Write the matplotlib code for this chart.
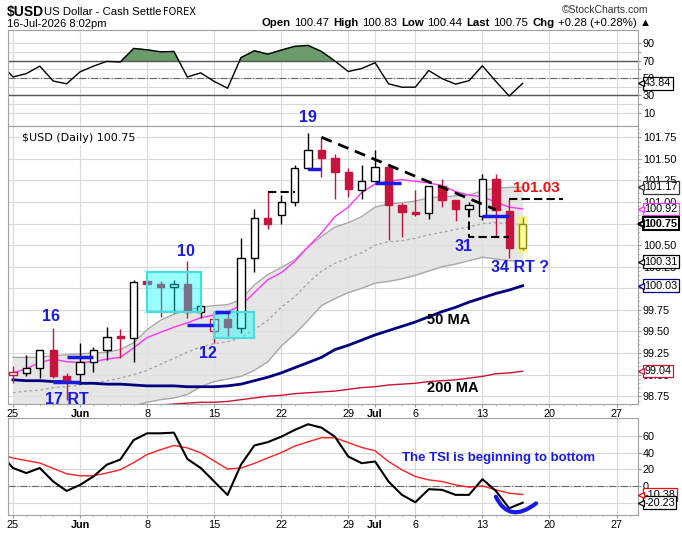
import numpy as np
import pandas as pd
import matplotlib
matplotlib.use("Agg")
import matplotlib.pyplot as plt
from matplotlib.patches import Rectangle, PathPatch
from matplotlib.path import Path
from matplotlib.ticker import MultipleLocator, FormatStrFormatter

plt.rcParams["font.family"] = ["Liberation Sans", "DejaVu Sans"]

# ---- data (index 0 = 25 May 2026, one step per trading day)
opens = [99.00, 99.02, 99.08, 99.29, 98.98, 99.01, 99.15, 99.29, 99.45, 99.42,
         100.09, 100.05, 100.01, 100.05, 99.73, 99.50, 99.64, 99.54, 100.35, 100.82,
         100.85, 101.00, 101.39, 101.60, 101.51, 101.35, 101.14, 101.24, 101.40, 100.97,
         100.88, 100.87, 101.19, 101.02, 100.92, 100.84, 101.27, 100.90, 100.47]
highs = [99.10, 99.23, 99.29, 99.54, 99.02, 99.37, 99.32, 99.55, 99.53, 100.10,
         100.09, 100.08, 100.10, 100.32, 99.81, 99.66, 99.73, 100.58, 100.92, 101.12,
         101.08, 101.43, 101.80, 101.74, 101.56, 101.39, 101.43, 101.60, 101.41, 100.99,
         101.14, 101.19, 101.27, 101.02, 101.00, 101.32, 101.32, 101.03, 100.83]
lows = [98.90, 98.98, 98.96, 98.96, 98.71, 98.89, 99.03, 99.17, 99.19, 99.15,
        100.05, 99.67, 99.71, 99.66, 99.66, 99.37, 99.45, 99.48, 100.19, 100.69,
        100.75, 100.95, 101.37, 101.29, 101.04, 101.06, 101.04, 101.24, 100.56, 100.60,
        100.84, 100.80, 100.94, 100.78, 100.90, 100.79, 100.60, 100.35, 100.44]
closes = [99.03, 99.08, 99.28, 98.98, 98.93, 99.15, 99.28, 99.44, 99.42, 100.07,
          100.05, 100.01, 100.05, 99.73, 99.80, 99.65, 99.55, 100.35, 100.82, 100.75,
          101.00, 101.39, 101.60, 101.51, 101.35, 101.15, 101.24, 101.40, 100.97, 100.88,
          100.86, 101.18, 101.02, 100.92, 100.96, 101.27, 100.91, 100.47, 100.75]
prev_close = 99.06

bb_upper = [99.20, 99.20, 99.20, 99.22, 99.23, 99.24, 99.25, 99.26, 99.29, 99.37,
            99.52, 99.63, 99.70, 99.75, 99.78, 99.80, 99.81, 99.87, 100.04, 100.16,
            100.24, 100.33, 100.48, 100.60, 100.71, 100.76, 100.83, 100.94, 100.98, 100.99,
            101.01, 101.05, 101.06, 101.07, 101.08, 101.13, 101.16, 101.17, 101.17]
bb_mid = [98.79, 98.81, 98.82, 98.85, 98.86, 98.88, 98.90, 98.93, 98.96, 99.00,
          99.05, 99.12, 99.19, 99.26, 99.32, 99.36, 99.38, 99.43, 99.52, 99.63,
          99.78, 99.90, 100.06, 100.20, 100.29, 100.35, 100.41, 100.50, 100.54, 100.55,
          100.58, 100.62, 100.65, 100.68, 100.71, 100.75, 100.76, 100.75, 100.74]
bb_lower = [98.37, 98.42, 98.44, 98.47, 98.49, 98.52, 98.56, 98.59, 98.63, 98.64,
            98.68, 98.71, 98.73, 98.77, 98.86, 98.92, 98.95, 98.98, 99.05, 99.15,
            99.33, 99.47, 99.63, 99.80, 99.88, 99.95, 100.00, 100.06, 100.08, 100.11,
            100.15, 100.20, 100.25, 100.28, 100.32, 100.36, 100.34, 100.32, 100.31]
ema_fast = [99.02, 99.07, 99.14, 99.18, 99.15, 99.14, 99.15, 99.18, 99.20, 99.31,
            99.43, 99.49, 99.55, 99.60, 99.66, 99.69, 99.73, 99.80, 99.95, 100.10,
            100.18, 100.31, 100.48, 100.64, 100.83, 100.94, 101.11, 101.21, 101.24, 101.26,
            101.24, 101.22, 101.19, 101.12, 101.08, 101.06, 101.00, 100.94, 100.92]
ma50 = [98.94, 98.93, 98.93, 98.92, 98.92, 98.90, 98.90, 98.89, 98.89, 98.88,
        98.87, 98.87, 98.87, 98.86, 98.86, 98.86, 98.87, 98.89, 98.93, 98.97,
        99.02, 99.08, 99.14, 99.20, 99.29, 99.34, 99.40, 99.46, 99.51, 99.56,
        99.61, 99.67, 99.73, 99.78, 99.84, 99.89, 99.94, 99.98, 100.03]
ma200 = [98.57, 98.57, 98.58, 98.59, 98.60, 98.60, 98.61, 98.62, 98.63, 98.64,
         98.65, 98.65, 98.66, 98.67, 98.68, 98.68, 98.69, 98.71, 98.73, 98.75,
         98.76, 98.78, 98.79, 98.80, 98.81, 98.83, 98.85, 98.86, 98.88, 98.89,
         98.90, 98.92, 98.93, 98.94, 98.96, 98.98, 99.01, 99.02, 99.04]

# RSI and TSI start one day earlier (index -1)
rsi = [68.0, 51.2, 55.1, 63.7, 46.5, 43.3, 57.1, 63.7, 69.2, 68.4, 84.1, 82.5, 80.2, 80.6,
       51.2, 55.9, 46.1, 38.2, 73.5, 81.4, 77.5, 82.2, 86.5, 87.6, 80.6, 69.6, 57.5,
       61.0, 67.6, 43.3, 39.4, 39.4, 58.6, 49.2, 42.9, 46.9, 64.1, 46.1, 29.2, 43.84]
tsi = [40.0, 21.5, 15.4, 21.5, 5.3, -6.1, 1.2, 11.3, 25.5, 31.6, 55.1, 63.2, 63.2, 64.0,
       32.4, 21.5, 5.3, -10.9, 25.5, 48.6, 52.6, 59.1, 67.2, 74.1, 70.0, 59.1, 35.3,
       27.3, 29.3, 5.2, -10.8, -19.7, -4.0, -4.8, -10.8, -10.8, 8.0, -6.0, -26.9, -20.23]
tsi_signal = [38.5, 33.5, 30.4, 27.5, 21.0, 14.6, 12.1, 12.1, 15.5, 19.4, 28.0, 37.7, 43.5,
              48.6, 45.7, 39.7, 30.0, 20.2, 21.5, 27.0, 33.6, 40.0, 47.8, 53.0, 57.9, 57.9,
              52.0, 46.2, 42.2, 29.3, 19.3, 11.2, 7.2, 5.2, 1.2, -1.6, 0.0, -4.8, -8.8, -10.38]

RED = "#c8143c"
BLUE = "#1a1ae6"
W, H = 682, 535

fig = plt.figure(figsize=(W / 100, H / 100), dpi=100)


def frame(top, bottom):
    return fig.add_axes([8 / W, 1 - bottom / H, 630 / W, (bottom - top) / H])


ax_rsi = frame(30, 126)
ax_px = frame(126, 404)
ax_tsi = frame(418, 515)

dates = pd.bdate_range("2026-05-25", periods=47)
tick_pos, tick_lab = [], []
for i, d in enumerate(dates):
    if i > 0 and d.month != dates[i - 1].month:
        tick_pos.append(i)
        tick_lab.append(d.strftime("%b"))
    elif d.weekday() == 0:
        tick_pos.append(i)
        tick_lab.append(str(d.day))

for ax in (ax_rsi, ax_px, ax_tsi):
    ax.set_xlim(-0.37, 46.6)
    ax.set_xticks(tick_pos)
    ax.xaxis.set_minor_locator(MultipleLocator(1))
    ax.grid(True, which="major", color="#d9d9d9", lw=0.8)
    ax.set_axisbelow(True)
    ax.yaxis.tick_right()
    ax.tick_params(axis="both", which="major", labelsize=7.8, length=2, color="#999999", pad=1.5)
    ax.tick_params(axis="both", which="minor", length=1.5, color="#bbbbbb")
    for s in ax.spines.values():
        s.set_color("#a0a0a0")
        s.set_linewidth(0.8)

ax_rsi.tick_params(axis="x", which="both", labelbottom=False)
for ax in (ax_px, ax_tsi):
    ax.set_xticklabels(tick_lab)
    for lab in ax.get_xticklabels():
        if not lab.get_text().isdigit():
            lab.set_fontweight("bold")


def tag(ax, y, text, color, bold=False, lw=0.9):
    ax.annotate(text, xy=(1, y), xycoords=("axes fraction", "data"), xytext=(4.5, 0),
                textcoords="offset points", va="center", ha="left", fontsize=7.8,
                fontweight="bold" if bold else "normal", annotation_clip=False, zorder=20,
                bbox=dict(boxstyle="square,pad=0.12", fc="white", ec=color, lw=lw))
    ax.plot([1.005], [y], marker="<", ms=5, mfc="white", mec=color, mew=lw,
            transform=ax.get_yaxis_transform(), clip_on=False, zorder=21)


# ---- RSI panel
rsi_x = np.arange(-1, len(rsi) - 1)
rsi_a = np.array(rsi)
ax_rsi.set_ylim(-5.4, 105.4)
ax_rsi.set_yticks(range(10, 100, 10))
ax_rsi.set_yticklabels(["10", "", "30", "", "50", "", "70", "", "90"])
ax_rsi.axhline(70, color="#555555", lw=1)
ax_rsi.axhline(30, color="#555555", lw=1)
ax_rsi.axhline(50, color="#666666", lw=0.8, ls="-.")
ax_rsi.fill_between(rsi_x, rsi_a, 70, where=rsi_a > 70, interpolate=True, color="#6b9b6b")
ax_rsi.plot(rsi_x, rsi_a, color="black", lw=1)
tag(ax_rsi, rsi[-1], "43.84", "black")

# ---- price panel
x = np.arange(len(closes))
o, h, l, c = map(np.array, (opens, highs, lows, closes))
prev = np.r_[prev_close, c[:-1]]
col = np.where(c >= prev, "black", RED)
face = np.where(c >= o, "white", col)
ax_px.set_ylim(98.66, 101.88)
ax_px.set_yticks(np.arange(98.75, 101.76, 0.25))
ax_px.yaxis.set_major_formatter(FormatStrFormatter("%.2f"))
ax_px.yaxis.set_minor_locator(MultipleLocator(0.05))

ax_px.fill_between(x, bb_lower, bb_upper, color="#e2e2e2", alpha=0.85, lw=0, zorder=1)
ax_px.plot(x, bb_upper, color="#a8a8a8", lw=1, zorder=2)
ax_px.plot(x, bb_lower, color="#a8a8a8", lw=1, zorder=2)
ax_px.plot(x, bb_mid, color="#a8a8a8", lw=1, ls=(0, (2, 2)), zorder=2)
ax_px.plot(x, ma200, color="#cc1133", lw=1, zorder=2)
ax_px.plot(x, ma50, color="#000080", lw=2, zorder=2)
ax_px.plot(x, ema_fast, color="#ff33ff", lw=1, zorder=2)

ax_px.vlines(x, l, h, colors=col, lw=1, zorder=3)
ax_px.bar(x, np.maximum(np.abs(c - o), 0.008), bottom=np.minimum(o, c), width=0.55,
          color=face, edgecolor=col, lw=1, zorder=4)

# highlight boxes
ax_px.add_patch(Rectangle((10.0, 99.72), 4.0, 0.47, fc="#00ffff", alpha=0.4, ec="none", zorder=5))
ax_px.add_patch(Rectangle((10.0, 99.72), 4.0, 0.47, fc="none", ec="#40e0e0", lw=1.5, zorder=5))
ax_px.add_patch(Rectangle((15.0, 99.43), 3.0, 0.30, fc="#00ffff", alpha=0.4, ec="none", zorder=5))
ax_px.add_patch(Rectangle((15.0, 99.43), 3.0, 0.30, fc="none", ec="#40e0e0", lw=1.5, zorder=5))
ax_px.add_patch(Rectangle((37.6, 100.41), 0.8, 0.43, fc="#ffff33", alpha=0.55, ec="none", zorder=5))

# cycle marks
for x0, x1, y in [(3, 5, 98.92), (4, 6, 99.20), (13, 14.9, 99.575), (15.1, 16.2, 99.73),
                  (22, 23, 101.38), (27, 28.9, 101.22), (35, 37, 100.84)]:
    ax_px.plot([x0, x1], [y, y], color=BLUE, lw=2.5, zorder=6, solid_capstyle="butt")

dash = dict(color="black", lw=1.5, ls=(0, (4, 2)), zorder=6)
ax_px.plot([19, 21], [101.12, 101.12], **dash)
ax_px.plot([23.0, 36.0], [101.75, 100.91], color="black", lw=2, ls=(0, (4, 2.5)), zorder=6)
ax_px.plot([34, 34, 37], [100.92, 100.60, 100.60], **dash)
ax_px.plot([37.0, 41.0], [101.04, 101.04], **dash)

lab = dict(ha="center", va="center", fontsize=11.5, fontweight="bold", color=BLUE, zorder=8,
           clip_on=False)
ax_px.text(22.0, 101.98, "19", **lab)
ax_px.text(2.8, 99.67, "16", **lab)
ax_px.text(4.0, 98.71, "17 RT", **lab)
ax_px.text(12.9, 100.43, "10", **lab)
ax_px.text(14.5, 99.24, "12", **lab)
ax_px.text(33.6, 100.49, "31", **lab)
ax_px.text(37.8, 100.24, "34 RT ?", **lab)
ax_px.text(39.0, 101.16, "101.03", ha="center", va="center", fontsize=11,
           fontweight="bold", color="#ee1111", zorder=8)
ax_px.text(32.5, 99.63, "50 MA", ha="center", va="center", fontsize=10.5,
           fontweight="bold", color="black", zorder=8)
ax_px.text(32.8, 98.84, "200 MA", ha="center", va="center", fontsize=10.5,
           fontweight="bold", color="black", zorder=8)

ax_px.text(0.022, 0.975, "$USD (Daily) 100.75", transform=ax_px.transAxes, va="top",
           ha="left", fontsize=8, parse_math=False, zorder=9, family="DejaVu Sans",
           bbox=dict(boxstyle="square,pad=0.15", fc="white", ec="none"))

tag(ax_px, bb_upper[-1], "101.17", "#333333")
tag(ax_px, ema_fast[-1], "100.92", "#ff33ff")
tag(ax_px, closes[-1], "100.75", "black", bold=True, lw=1.5)
tag(ax_px, bb_lower[-1], "100.31", "black")
tag(ax_px, ma50[-1], "100.03", "#000080")
tag(ax_px, ma200[-1], "99.04", "#cc1133")

# ---- TSI panel
tsi_x = np.arange(-1, len(tsi) - 1)
ax_tsi.set_ylim(-35, 81.6)
ax_tsi.set_yticks([-20, 0, 20, 40, 60])
ax_tsi.axhline(0, color="#666666", lw=0.8, ls="-.")
ax_tsi.plot(tsi_x, tsi_signal, color="#ff2020", lw=1)
ax_tsi.plot(tsi_x, tsi, color="black", lw=1.5)
ax_tsi.text(36.2, 33.0, "The TSI is beginning to bottom", ha="center", va="center",
            fontsize=9.5, fontweight="bold", color=BLUE)
arc = Path([(36.0, -13), (37.0, -46), (39.0, -21)], [Path.MOVETO, Path.CURVE3, Path.CURVE3])
ax_tsi.add_patch(PathPatch(arc, fc="none", ec=BLUE, lw=3, zorder=6, capstyle="round"))
tag(ax_tsi, tsi_signal[-1], "-10.38", "#ff0000")
tag(ax_tsi, tsi[-1], "-20.23", "black")

# ---- header
fig.text(7 / W, 1 - 12 / H, "$USD", fontsize=10, fontweight="bold", va="center",
         parse_math=False)
fig.text(44 / W, 1 - 12 / H, "US Dollar - Cash Settle", fontsize=8.2, va="center")
fig.text(163 / W, 1 - 12 / H, "FOREX", fontsize=7, va="center", family="DejaVu Sans")
fig.text(7 / W, 1 - 24 / H, "16-Jul-2026 8:02pm", fontsize=8, va="center")
fig.text(648 / W, 1 - 10 / H, "\u00a9StockCharts.com", fontsize=7.5, va="center",
         ha="right", color="#333333")

renderer = fig.canvas.get_renderer()
xpos = 262
for piece, weight in [("Open", "bold"), ("100.47", "normal"), ("High", "bold"),
                      ("100.83", "normal"), ("Low", "bold"), ("100.44", "normal"),
                      ("Last", "bold"), ("100.75", "normal"), ("Chg", "bold"),
                      ("+0.28 (+0.28%) \u25b2", "normal")]:
    t = fig.text(xpos / W, 1 - 23 / H, piece, fontsize=8.2, fontweight=weight, va="center")
    xpos += t.get_window_extent(renderer).width + (3 if weight == "bold" else 4.5)

fig.savefig("out.png", dpi=100)
